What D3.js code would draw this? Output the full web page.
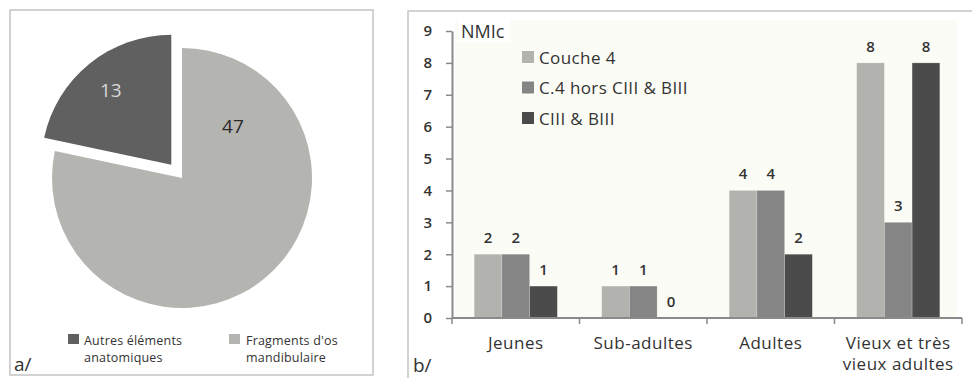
<!DOCTYPE html>
<html><head><meta charset="utf-8">
<script src="https://cdn.jsdelivr.net/npm/d3@7"></script>
<style>
html,body{margin:0;padding:0;background:#fff;}
svg{display:block;font-family:"Open Sans",sans-serif;}
</style></head>
<body>
<svg id="c" width="972" height="378"></svg>
<script>
// ---- Data ----
const pieLabels = ["Autres éléments anatomiques", "Fragments d'os mandibulaire"];
const pieLegendLines = [["Autres éléments", "anatomiques"], ["Fragments d'os", "mandibulaire"]];
const pieValues = [13, 47];

const categories = ["Jeunes", "Sub-adultes", "Adultes", "Vieux et très vieux adultes"];
const categoryLines = [["Jeunes"], ["Sub-adultes"], ["Adultes"], ["Vieux et très", "vieux adultes"]];
const seriesNames = ["Couche 4", "C.4 hors CIII & BIII", "CIII & BIII"];
const couche4 = [2, 1, 4, 8];
const horsCB = [2, 1, 4, 3];
const cb = [1, 0, 2, 8];
const yTicks = [0, 1, 2, 3, 4, 5, 6, 7, 8, 9];

const pieColors = ["#606060", "#b4b4b0"];
const barColors = ["#b2b2ae", "#858585", "#4b4b4b"];
const textCol = "#333";

const svg = d3.select("#c");

// ---- Panel a: pie ----
svg.append("rect").attr("x", 10).attr("y", 10).attr("width", 363).attr("height", 365)
  .attr("fill", "#fff").attr("stroke", "#c4c4c4").attr("stroke-width", 1.5);

const cx = 182, cy = 178, R = 130, explode = 17;
const total = d3.sum(pieValues);
const start = -pieValues[0] / total * 2 * Math.PI;
const pie = d3.pie().sort(null).startAngle(start).endAngle(start + 2 * Math.PI);
const arcs = pie(pieValues);
const arc = d3.arc().innerRadius(0).outerRadius(R);
const gp = svg.append("g").attr("transform", `translate(${cx},${cy})`);
arcs.forEach((a, i) => {
  const mid = (a.startAngle + a.endAngle) / 2;
  const off = i === 0 ? explode : 0;
  const dx = Math.sin(mid) * off, dy = -Math.cos(mid) * off;
  const g = gp.append("g").attr("transform", `translate(${dx},${dy})`);
  g.append("path").attr("d", arc(a)).attr("fill", pieColors[i]);
  const lr = i === 0 ? R * 0.74 : R * 0.56;
  const la = i === 0 ? mid : 0.775;
  g.append("text").attr("x", Math.sin(la) * lr).attr("y", -Math.cos(la) * lr)
    .attr("text-anchor", "middle").attr("dominant-baseline", "central")
    .attr("font-size", 19).attr("fill", i === 0 ? "#d8d8d8" : "#2a2a2a")
    .text(pieValues[i]);
});

// pie legend
const pl = [{x: 68, tx: 84}, {x: 229, tx: 246}];
pieLegendLines.forEach((lines, i) => {
  svg.append("rect").attr("x", pl[i].x).attr("y", 334).attr("width", 11).attr("height", 10)
    .attr("fill", pieColors[i]);
  const t = svg.append("text").attr("font-size", 12.5).attr("letter-spacing", 0.2).attr("fill", textCol);
  lines.forEach((ln, j) => {
    t.append("tspan").attr("x", pl[i].tx).attr("y", 345 + j * 17).text(ln);
  });
});
svg.append("text").attr("x", 14).attr("y", 371).attr("font-size", 19).attr("fill", textCol).text("a/");

// ---- Panel b: bars ----
svg.append("rect").attr("x", 408).attr("y", 11).attr("width", 600).attr("height", 400)
  .attr("fill", "#fff").attr("stroke", "#c4c4c4").attr("stroke-width", 1.5);

const pLeft = 452, pRight = 962, pTop = 31, pBottom = 318;
svg.append("rect").attr("x", 455).attr("y", 20).attr("width", 502).attr("height", pBottom - 20)
  .attr("fill", "#fcfcf6");

const x0 = d3.scaleBand().domain(categories).range([pLeft, pRight]).padding(0);
const x1 = d3.scaleBand().domain(seriesNames).range([0, x0.bandwidth()]).paddingOuter(0.8).paddingInner(0);
const y = d3.scaleLinear().domain([0, 9]).range([pBottom, pTop]);

const data = categories.map((c, i) => ({cat: c, vals: [couche4[i], horsCB[i], cb[i]]}));

const groups = svg.append("g").selectAll("g").data(data).join("g")
  .attr("transform", d => `translate(${x0(d.cat)},0)`);
groups.selectAll("rect").data(d => d.vals.map((v, k) => ({v, k}))).join("rect")
  .attr("x", d => x1(seriesNames[d.k]))
  .attr("width", x1.bandwidth())
  .attr("y", d => y(d.v))
  .attr("height", d => y(0) - y(d.v))
  .attr("fill", d => barColors[d.k])
  .attr("stroke", "rgba(255,255,255,0.25)").attr("stroke-width", 0.8);
groups.selectAll("text").data(d => d.vals.map((v, k) => ({v, k}))).join("text")
  .attr("x", d => x1(seriesNames[d.k]) + x1.bandwidth() / 2)
  .attr("y", d => y(d.v) - 11)
  .attr("text-anchor", "middle").attr("font-size", 15).attr("font-weight", 600)
  .attr("fill", textCol).text(d => d.v);

// y axis
const yAxis = d3.axisLeft(y).tickValues(yTicks).tickSize(6).tickPadding(14).tickSizeOuter(0);
const ya = svg.append("g").attr("transform", `translate(${pLeft},0)`).call(yAxis);
ya.select(".domain").attr("stroke", "#8a8a8a").attr("stroke-width", 2);
ya.selectAll(".tick line").attr("stroke", "#8a8a8a").attr("stroke-width", 1.5);
ya.selectAll(".tick text").attr("font-size", 15).attr("font-weight", 600).attr("fill", textCol)
  .attr("font-family", "Open Sans, sans-serif");

// x axis
const xa = svg.append("g");
xa.append("line").attr("x1", pLeft).attr("x2", pRight).attr("y1", pBottom).attr("y2", pBottom)
  .attr("stroke", "#8a8a8a").attr("stroke-width", 2);
const bounds = categories.map(c => x0(c)).concat([pRight]);
xa.selectAll("line.t").data(bounds).join("line").attr("class", "t")
  .attr("x1", d => d).attr("x2", d => d).attr("y1", pBottom).attr("y2", pBottom + 6)
  .attr("stroke", "#8a8a8a").attr("stroke-width", 1.5);
categoryLines.forEach((lines, i) => {
  const t = xa.append("text").attr("text-anchor", "middle").attr("font-size", 17)
    .attr("letter-spacing", 0.5).attr("fill", textCol);
  lines.forEach((ln, j) => {
    t.append("tspan").attr("x", x0(categories[i]) + x0.bandwidth() / 2).attr("y", 349 + j * 21).text(ln);
  });
});

// NMIc label
svg.append("rect").attr("x", 458).attr("y", 20).attr("width", 52).attr("height", 22).attr("fill", "#fff");
svg.append("text").attr("x", 461).attr("y", 38).attr("font-size", 18).attr("fill", textCol).text("NMIc");

// legend
seriesNames.forEach((s, i) => {
  const cyL = 57 + i * 30.5;
  svg.append("rect").attr("x", 522).attr("y", cyL - 6).attr("width", 12).attr("height", 12).attr("fill", barColors[i]);
  svg.append("text").attr("x", 539).attr("y", cyL).attr("dominant-baseline", "central")
    .attr("font-size", 17).attr("letter-spacing", 0.4).attr("fill", textCol).text(s);
});

svg.append("text").attr("x", 413).attr("y", 372).attr("font-size", 19).attr("fill", textCol).text("b/");
</script>
</body></html>
